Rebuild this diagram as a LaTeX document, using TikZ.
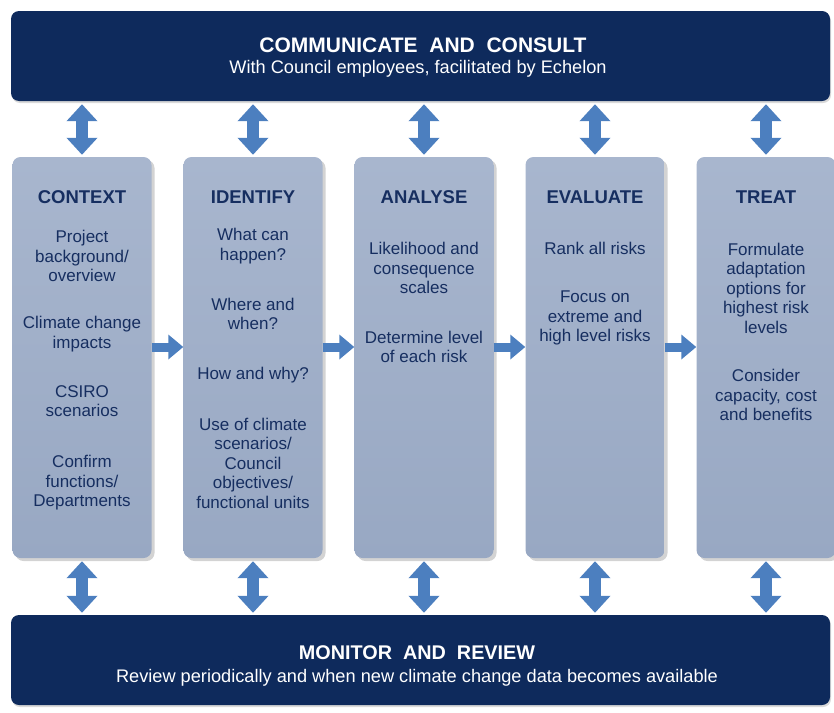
\documentclass[tikz,border=0pt]{standalone}
\usepackage{fontspec}
\setmainfont{Liberation Sans}
\usepackage{tikz}
\usetikzlibrary{arrows.meta, positioning, shadows}
\definecolor{barnavy}{RGB}{14,42,92}
\definecolor{stagetop}{RGB}{168,182,206}
\definecolor{stagebot}{RGB}{152,168,195}
\definecolor{stageink}{RGB}{22,46,96}
\definecolor{linkblue}{RGB}{76,127,191}
\tikzset{
  bar/.style={rectangle, fill=barnavy, minimum width=819pt, minimum height=90pt,
    rounded corners=8pt, drop shadow={shadow xshift=1pt, shadow yshift=-2pt, opacity=0.3}},
  bartitle/.style={font=\fontsize{20.5}{24}\selectfont\bfseries, text=white, inner sep=0pt},
  barsub/.style={font=\fontsize{18.2}{21}\selectfont, text=white, inner sep=0pt},
  stage/.style={rectangle, top color=stagetop, bottom color=stagebot,
    minimum width=139pt, minimum height=401pt, rounded corners=8pt,
    drop shadow={shadow xshift=3pt, shadow yshift=-3pt, opacity=0.35}},
  stagehead/.style={font=\fontsize{18.5}{22}\selectfont\bfseries, text=stageink, inner sep=0pt},
  stagetext/.style={font=\fontsize{17}{19.5}\selectfont, text=stageink,
    align=center, inner sep=0pt},
  vlink/.style={line width=12pt, color=linkblue, shorten <=3pt, shorten >=2pt,
    {Triangle[width=30pt,length=17pt]}-{Triangle[width=30pt,length=17pt]}},
  hlink/.style={line width=9pt, color=linkblue, -{Triangle[width=24pt,length=15pt]}}
}

\begin{document}
\begin{tikzpicture}[x=1pt, y=-1pt]
  \useasboundingbox (0,0) rectangle (834,712);

  % Top and bottom bars
  \node[bar] (consult) at (420.5,56) {};
  \node[bartitle, font=\fontsize{21}{24}\selectfont\bfseries] (consulttitle) at (423,45) {COMMUNICATE\ \ AND\ \ CONSULT};
  \node[barsub] (consultsub) at (418,69) {With Council employees, facilitated by Echelon};

  \node[bar] (monitor) at (420.5,660) {};
  \node[bartitle, font=\fontsize{19.8}{24}\selectfont\bfseries] (monitortitle) at (417,653) {MONITOR\ \ AND\ \ REVIEW};
  \node[barsub] (monitorsub) at (417,678) {Review periodically and when new climate change data becomes available};

  % Process stages
  \node[stage] (context) at (82,357.5) {};
  \node[stage] (identify) at (253,357.5) {};
  \node[stage] (analyse) at (424,357.5) {};
  \node[stage] (evaluate) at (595,357.5) {};
  \node[stage] (treat) at (766,357.5) {};

  % Context
  \node[stagehead] (ctxhead) at (82,197) {CONTEXT};
  \node[stagetext] (ctxa) at (82,256) {Project\\background/\\overview};
  \node[stagetext] (ctxb) at (82,334) {Climate change\\impacts};
  \node[stagetext] (ctxc) at (82,401) {CSIRO\\scenarios};
  \node[stagetext] (ctxd) at (82,483) {Confirm\\functions/\\Departments};

  % Identify
  \node[stagehead] (idhead) at (253,197) {IDENTIFY};
  \node[stagetext] (ida) at (253,246) {What can\\happen?};
  \node[stagetext] (idb) at (253,314) {Where and\\when?};
  \node[stagetext] (idc) at (253,375) {How and why?};
  \node[stagetext] (idd) at (253,463) {Use of climate\\scenarios/\\Council\\objectives/\\functional units};

  % Analyse
  \node[stagehead] (anhead) at (424,197) {ANALYSE};
  \node[stagetext] (ana) at (424,268) {Likelihood and\\consequence\\scales};
  \node[stagetext] (anb) at (424,347) {Determine level\\of each risk};

  % Evaluate
  \node[stagehead] (evhead) at (595,197) {EVALUATE};
  \node[stagetext] (eva) at (595,248) {Rank all risks};
  \node[stagetext] (evb) at (595,318) {Focus on\\extreme and\\high level risks};

  % Treat
  \node[stagehead] (trhead) at (766,197) {TREAT};
  \node[stagetext] (tra) at (766,288) {Formulate\\adaptation\\options for\\highest risk\\levels};
  \node[stagetext] (trb) at (766,395) {Consider\\capacity, cost\\and benefits};

  % Links to the bars
  \foreach \s in {context, identify, analyse, evaluate, treat} {
    \draw[vlink] (consult.south -| \s.north) -- (\s.north);
    \draw[vlink] (\s.south) -- (monitor.north -| \s.south);
  }

  % Links between stages
  \draw[hlink] ([yshift=10.5pt]context.east) -- ([yshift=10.5pt]identify.west);
  \draw[hlink] ([yshift=10.5pt]identify.east) -- ([yshift=10.5pt]analyse.west);
  \draw[hlink] ([yshift=10.5pt]analyse.east) -- ([yshift=10.5pt]evaluate.west);
  \draw[hlink] ([yshift=10.5pt]evaluate.east) -- ([yshift=10.5pt]treat.west);
\end{tikzpicture}
\end{document}
